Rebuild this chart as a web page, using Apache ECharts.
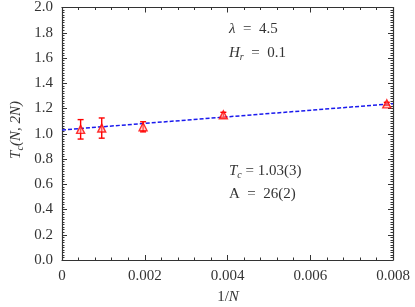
<!DOCTYPE html>
<html><head><meta charset="utf-8">
<script src="https://cdn.jsdelivr.net/npm/echarts@6/dist/echarts.min.js"></script>
<style>html,body{margin:0;padding:0;background:#fff}#c{width:415px;height:307px}</style>
</head><body><div id="c"></div>
<script>
const invN = [0.00045, 0.00096, 0.00196, 0.00390, 0.00785];
const tc = [1.035, 1.045, 1.055, 1.15, 1.237];
const tcErr = [0.077, 0.08, 0.04, 0.02, 0.012];
const fitX = [0, 0.008];
const fitY = [1.03, 1.238];
const xTicks = ['0', '0.002', '0.004', '0.006', '0.008'];

const FONT = 'Liberation Serif';
const chart = echarts.init(document.getElementById('c'));
const errData = invN.map((x, i) => [x, tc[i] - tcErr[i], tc[i] + tcErr[i]]);
const axisCommon = {
  axisLine: {show: true, onZero: false, lineStyle: {color: '#333', width: 1.2}},
  axisTick: {show: true, inside: true, length: 5, lineStyle: {color: '#333'}},
  splitLine: {show: false}
};
const sub = {fontFamily: FONT, fontStyle: 'italic', fontSize: 10, padding: [8, 0, 0, 0]};
const ital = {fontFamily: FONT, fontStyle: 'italic', fontSize: 15};
chart.setOption({
  animation: false,
  grid: {left: 62, right: 22, top: 5, bottom: 47},
  xAxis: [
    Object.assign({type: 'value', min: 0, max: 0.008, interval: 0.002, position: 'bottom',
      axisLabel: {fontFamily: FONT, fontSize: 15, color: '#333', margin: 9,
        formatter: v => xTicks[Math.round(v / 0.002)]}}, axisCommon,
      {minorTick: {show: true, splitNumber: 5, length: 2.5, lineStyle: {color: '#333'}}}),
    Object.assign({type: 'value', min: 0, max: 0.008, interval: 0.002, position: 'top',
      axisLabel: {show: false}}, axisCommon,
      {minorTick: {show: true, splitNumber: 5, length: 2.5, lineStyle: {color: '#333'}}})
  ],
  yAxis: [
    Object.assign({type: 'value', min: 0, max: 2, interval: 0.2, position: 'left',
      axisLabel: {fontFamily: FONT, fontSize: 15, color: '#333', margin: 9,
        formatter: v => v.toFixed(1)}}, axisCommon,
      {minorTick: {show: true, splitNumber: 10, length: 2.5, lineStyle: {color: '#333'}}}),
    Object.assign({type: 'value', min: 0, max: 2, interval: 0.2, position: 'right',
      axisLabel: {show: false}}, axisCommon,
      {minorTick: {show: true, splitNumber: 10, length: 2.5, lineStyle: {color: '#333'}}})
  ],
  series: [
    {type: 'line', data: fitX.map((x, i) => [x, fitY[i]]), symbol: 'none',
      lineStyle: {color: '#1a1aee', width: 1.5, type: [4, 2]}, z: 2},
    {type: 'custom', data: errData, z: 3,
      renderItem: function (params, api) {
        const x = api.value(0);
        const lo = api.coord([x, api.value(1)]);
        const hi = api.coord([x, api.value(2)]);
        const cw = 3;
        const st = {stroke: '#f00', lineWidth: 1.4};
        return {type: 'group', children: [
          {type: 'line', shape: {x1: lo[0], y1: lo[1], x2: hi[0], y2: hi[1]}, style: st},
          {type: 'line', shape: {x1: lo[0] - cw, y1: lo[1], x2: lo[0] + cw, y2: lo[1]}, style: st},
          {type: 'line', shape: {x1: hi[0] - cw, y1: hi[1], x2: hi[0] + cw, y2: hi[1]}, style: st}
        ]};
      }},
    {type: 'scatter', data: invN.map((x, i) => [x, tc[i]]), symbol: 'triangle', symbolSize: 8,
      itemStyle: {color: 'rgba(255,170,170,0.6)', borderColor: '#f00', borderWidth: 1.4}, z: 4}
  ],
  graphic: [
    {type: 'text', left: 229, top: 22, style: {text: '{i|λ}  =  4.5', font: '15px ' + FONT, fill: '#333',
      rich: {i: ital}}},
    {type: 'text', left: 229, top: 46, style: {text: '{i|H}{s|r}  =  0.1', font: '15px ' + FONT, fill: '#333',
      rich: {i: ital, s: sub}}},
    {type: 'text', left: 229, top: 164, style: {text: '{i|T}{s|c} = 1.03(3)', font: '15px ' + FONT, fill: '#333',
      rich: {i: ital, s: sub}}},
    {type: 'text', left: 229, top: 187, style: {text: 'A  =  26(2)', font: '15px ' + FONT, fill: '#333'}},
    {type: 'text', x: 16, y: 130, rotation: Math.PI / 2, style: {text: '{i|T}{s|c}{i|(N, 2N)}', font: '15px ' + FONT, fill: '#333',
      align: 'center', verticalAlign: 'middle',
      rich: {i: ital, s: sub}}},
    {type: 'text', x: 228, y: 297, style: {text: '1/{i|N}', font: '15px ' + FONT, fill: '#333',
      align: 'center', verticalAlign: 'middle', rich: {i: ital}}}
  ]
});
</script></body></html>
